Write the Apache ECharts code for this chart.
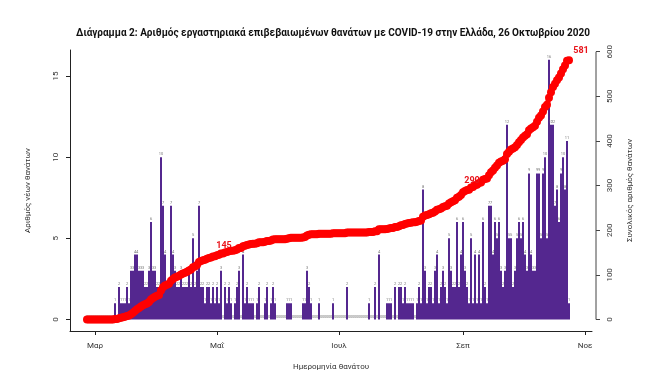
<!DOCTYPE html>
<html><head><meta charset="utf-8">
<script src="https://cdn.jsdelivr.net/npm/echarts@6/dist/echarts.min.js"></script>
<style>html,body{margin:0;padding:0;background:#fff}#c{width:666px;height:382px}</style>
</head><body><div id="c"></div>
<script>
// ---- data ----
const firstDate = '2020-02-26';
const axisOriginDate = '2020-03-01';
const dailyDeaths = [
  0,0,0,0,0,0,0,0,0,0,0,0,0,0,
  1,0,2,1,1,1,2,1,3,3,4,4,3,3,3,2,2,3,6,3,3,2,2,
  10,7,4,2,2,7,4,3,2,2,3,2,2,2,3,2,5,2,3,7,2,2,1,2,2,1,2,1,2,1,3,
  0,2,1,2,1,0,1,2,3,0,4,1,2,1,1,1,0,1,2,0,0,1,2,0,1,2,1,
  0,0,0,0,0,1,1,1,0,0,0,0,0,1,1,3,2,1,0,0,0,1,0,0,0,0,0,0,1,0,
  0,0,0,0,0,2,0,0,0,0,0,0,0,0,0,0,1,0,0,2,0,4,0,0,0,1,1,1,0,2,0,2,
  2,1,2,1,1,1,1,0,1,2,1,8,3,1,2,2,1,3,4,1,2,3,2,1,5,3,2,2,6,2,4,
  6,3,2,1,5,1,4,1,4,1,6,2,1,7,7,4,6,5,6,3,2,3,12,5,5,2,3,5,6,5,
  6,4,3,9,4,3,3,9,9,5,9,10,5,16,12,12,7,8,6,9,10,8,11,1
];
const monthTickDates = ['2020-03-01','2020-05-01','2020-07-01','2020-09-01','2020-11-01'];
const monthTickLabels = ['Μαρ','Μαΐ','Ιουλ','Σεπ','Νοε'];
const leftTicks = [0,5,10,15];
const rightTicks = [0,100,200,300,400,500,600];
const labeledTotals = [145,290,581];

// ---- derived ----
const DAY = 86400000;
const dayOffset = s => Math.round((Date.parse(s) - Date.parse(axisOriginDate)) / DAY);
const start = dayOffset(firstDate);
const monthTickDays = monthTickDates.map(dayOffset);
let run = 0;
const cumulative = dailyDeaths.map(v => (run += v));

const barData = dailyDeaths.map((v, i) => [start + i, v]);
const lineData = cumulative.map((v, i) => {
  const item = { value: [start + i, v] };
  if (labeledTotals.indexOf(v) >= 0 && cumulative.indexOf(v) === i) {
    const last = i === cumulative.length - 1;
    item.label = { show: true, position: 'top', distance: 3, offset: last ? [12, 2] : [5, 2],
      color: '#e8141b', fontWeight: 'bold', fontSize: 9, fontFamily: 'Roboto',
      formatter: p => p.value[1] };
  }
  return item;
});

const FONT = 'Roboto';
const chart = echarts.init(document.getElementById('c'), null, { renderer: 'canvas' });
const option = {
  animation: false,
  backgroundColor: '#fff',
  title: {
    text: 'Διάγραμμα 2: Αριθμός εργαστηριακά επιβεβαιωμένων θανάτων με COVID-19 στην Ελλάδα, 26 Οκτωβρίου 2020',
    left: 'center', top: 23,
    textStyle: { fontSize: 10, fontWeight: 'bold', color: '#111', fontFamily: FONT }
  },
  grid: { left: 70, right: 74, top: 50, bottom: 51 },
  xAxis: {
    type: 'value', min: -12.5, max: 248.5,
    name: 'Ημερομηνία θανάτου', nameLocation: 'middle', nameGap: 32,
    nameTextStyle: { fontSize: 8, color: '#333', fontFamily: FONT },
    axisLine: { show: true, onZero: false, lineStyle: { color: '#222', width: 1 } },
    axisTick: { show: true, length: 4, customValues: monthTickDays, lineStyle: { color: '#222' } },
    axisLabel: { customValues: monthTickDays, margin: 11, fontSize: 8, color: '#333', fontFamily: FONT,
      formatter: v => monthTickLabels[monthTickDays.indexOf(v)] || '' },
    splitLine: { show: false }
  },
  yAxis: [
    {
      type: 'value', min: -0.708, max: 16.6, position: 'left',
      name: 'Αριθμός νέων θανάτων', nameLocation: 'middle', nameGap: 38, nameRotate: 90,
      nameTextStyle: { fontSize: 8, color: '#333', fontFamily: FONT },
      axisLine: { show: true, onZero: false, lineStyle: { color: '#222', width: 1 } },
      axisTick: { show: true, length: 4, customValues: leftTicks, lineStyle: { color: '#222' } },
      axisLabel: { customValues: leftTicks, rotate: 90, margin: 10, fontSize: 8, color: '#333', fontFamily: FONT },
      splitLine: { show: false }
    },
    {
      type: 'value', min: -25.77, max: 603.9, position: 'right', offset: 4,
      name: 'Συνολικός αριθμός θανάτων', nameLocation: 'middle', nameGap: 30, nameRotate: 90,
      nameTextStyle: { fontSize: 8, color: '#333', fontFamily: FONT },
      axisLine: { show: false, onZero: false },
      axisTick: { show: true, length: 4, customValues: rightTicks, lineStyle: { color: '#444' } },
      axisLabel: { customValues: rightTicks, rotate: 90, margin: 10, fontSize: 8, color: '#333', fontFamily: FONT },
      splitLine: { show: false }
    }
  ],
  series: [
    {
      type: 'bar', data: barData, barWidth: 2, yAxisIndex: 0,
      itemStyle: { color: '#54278f' },
      label: { show: true, position: 'top', distance: 1, fontSize: 4, color: '#777', fontFamily: FONT,
        formatter: p => p.value[1] },
      z: 2
    },
    {
      type: 'line', data: lineData, yAxisIndex: 1,
      symbol: 'circle', symbolSize: 8, showAllSymbol: true,
      itemStyle: { color: '#ff0000' },
      lineStyle: { color: '#ff0000', width: 5 },
      z: 3
    }
  ]
};
chart.setOption(option);

// right axis line drawn only between its first and last tick, as in the reference
const yTop = chart.convertToPixel({ yAxisIndex: 1 }, rightTicks[rightTicks.length - 1]);
const yBot = chart.convertToPixel({ yAxisIndex: 1 }, rightTicks[0]);
const xRight = chart.getWidth() - 74 + 4;
chart.setOption({
  graphic: [{ type: 'line', shape: { x1: xRight, y1: yTop, x2: xRight, y2: yBot },
    style: { stroke: '#444', lineWidth: 1 }, silent: true }]
});
</script>
</body></html>
